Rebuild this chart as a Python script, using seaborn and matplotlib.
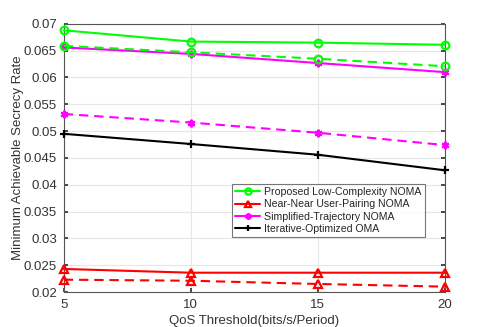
import numpy as np
import pandas as pd
import matplotlib
matplotlib.use("Agg")
import matplotlib.pyplot as plt
import seaborn as sns

qos = [5, 10, 15, 20]
proposed_solid = [0.0688, 0.0667, 0.0665, 0.0661]
proposed_dash = [0.0659, 0.0647, 0.0635, 0.0621]
nearnear_solid = [0.0243, 0.0236, 0.0236, 0.0236]
nearnear_dash = [0.0223, 0.0221, 0.0215, 0.0210]
simplified_solid = [0.0656, 0.0644, 0.0627, 0.0610]
simplified_dash = [0.0532, 0.0516, 0.0497, 0.0474]
oma_solid = [0.0495, 0.0476, 0.0456, 0.0427]

labels = ["Proposed Low-Complexity NOMA", "Near-Near User-Pairing NOMA",
          "Simplified-Trajectory NOMA", "Iterative-Optimized OMA"]

sns.set_theme(style="whitegrid")
plt.rcParams['font.family'] = ['Liberation Sans', 'DejaVu Sans']

fig = plt.figure(figsize=(4.91, 3.27), dpi=100)
ax = fig.add_axes([0.130, 0.107, 0.776, 0.820])

asterisk = (6, 2, 0)
series = [
    (proposed_solid, '#00ff00', '-', 'o', 'none', labels[0]),
    (nearnear_solid, '#ff0000', '-', '^', 'none', labels[1]),
    (simplified_solid, '#ff00ff', '-', asterisk, '#ff00ff', labels[2]),
    (oma_solid, '#000000', '-', '+', '#000000', labels[3]),
    (proposed_dash, '#00ff00', '--', 'o', 'none', None),
    (nearnear_dash, '#ff0000', '--', '^', 'none', None),
    (simplified_dash, '#ff00ff', '--', asterisk, '#ff00ff', None),
]
for vals, col, ls, mk, mfc, lab in series:
    df = pd.DataFrame({"x": qos, "y": vals})
    sns.lineplot(data=df, x="x", y="y", ax=ax, color=col, linestyle=ls,
                 marker=mk, markersize=5.5, markerfacecolor=mfc,
                 markeredgecolor=col, markeredgewidth=1.6, linewidth=1.5,
                 label=lab, clip_on=False, zorder=3)
    if ls == '--':
        ax.lines[-1].set_dashes((4.5, 2.8))

ax.set_xlim(5, 20)
ax.set_ylim(0.02, 0.07)
ax.set_xticks([5, 10, 15, 20])
ax.set_yticks(np.arange(0.02, 0.0701, 0.005))
ax.set_yticklabels(["0.02", "0.025", "0.03", "0.035", "0.04", "0.045", "0.05",
                    "0.055", "0.06", "0.065", "0.07"])
ax.set_facecolor('white')
ax.grid(True, color='#e6e6e6', linewidth=0.8)
for s in ax.spines.values():
    s.set_color('#555555')
    s.set_linewidth(0.8)
ax.tick_params(axis='both', labelsize=9.5, colors='#333333', direction='in',
               length=3, pad=5, left=True, bottom=True, right=True)
ax.tick_params(axis='y', right=True, labelright=False)
ax.set_xlabel("QoS Threshold(bits/s/Period)", fontsize=9.5, color='#333333', labelpad=3)
ax.set_ylabel("Minimum Achievable Secrecy Rate", fontsize=9.5, color='#333333')
ax.yaxis.set_label_coords(-0.105, 0.5)

leg = ax.legend(loc='upper left', bbox_to_anchor=(0.441, 0.403), fontsize=7.6,
                frameon=True, fancybox=False, borderpad=0.3, labelspacing=0.22,
                handlelength=2.4, handletextpad=0.35, borderaxespad=0)
leg.get_frame().set_edgecolor('#555555')
leg.get_frame().set_linewidth(0.8)
for h in leg.legend_handles:
    h.set_markersize(4.5)

fig.savefig("out.png", dpi=100)
